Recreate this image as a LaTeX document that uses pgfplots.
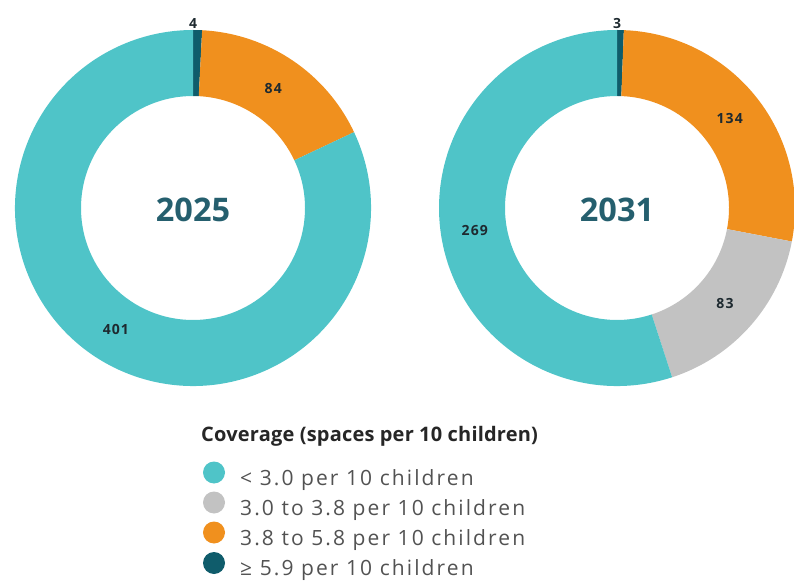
\documentclass[border=0pt]{standalone}
\usepackage{pgfplots}
\usepackage{pgfplotstable}
\pgfplotsset{compat=1.18}
\usepackage{fontspec}
\setmainfont{Open Sans}
\definecolor{seg0}{HTML}{0F5C6B}
\definecolor{seg1}{HTML}{F0901E}
\definecolor{seg2}{HTML}{C2C2C2}
\definecolor{seg3}{HTML}{4FC4C8}
\definecolor{yeartxt}{HTML}{255F6E}
\definecolor{lbltxt}{HTML}{1E2A30}

% rows in clockwise order from 12 o'clock
\pgfplotstableread{
cat v2025 v2031
0 4 3
1 84 134
2 0 83
3 401 269
}\data

\def\Ro{178}
\def\Ri{112}
\def\Rl{144}

\newcommand\donut[4]{% #1 column, #2 cx, #3 cy, #4 year
  \def\tot{0}%
  \pgfplotsforeachungrouped \i in {0,1,2,3}{%
    \pgfplotstablegetelem{\i}{#1}\of\data
    \pgfmathsetmacro\tot{\tot+\pgfplotsretval}%
  }%
  \def\cum{0}%
  \pgfplotsforeachungrouped \i in {0,1,2,3}{%
    \pgfplotstablegetelem{\i}{#1}\of\data
    \let\val\pgfplotsretval
    \pgfmathsetmacro\aS{90-360*(\cum/\tot)}%
    \pgfmathsetmacro\cum{\cum+\val}%
    \pgfmathsetmacro\aE{90-360*(\cum/\tot)}%
    \pgfmathsetmacro\aM{(\aS+\aE)/2}%
    \pgfmathtruncatemacro\vi{\val}%
    \ifnum\vi>0
      \edef\temp{\noexpand\fill[seg\i] (axis cs:#2,#3) ++(\aS:\Ro pt) arc[start angle=\aS, end angle=\aE, radius=\Ro pt] -- ([shift={(\aE:\Ri pt)}]axis cs:#2,#3) arc[start angle=\aE, end angle=\aS, radius=\Ri pt] -- cycle;}\temp
      \ifnum\vi>10
        \edef\temp{\noexpand\node[font=\noexpand\lblfont, text=lbltxt] at ([shift={(\aM:\Rl pt)}]axis cs:#2,#3) {\vi};}\temp
      \else
        \edef\temp{\noexpand\node[font=\noexpand\lblfont, text=lbltxt, anchor=south, inner sep=1pt] at ([shift={(90:\Ro pt)}]axis cs:#2,#3) {\vi};}\temp
      \fi
    \fi
  }%
  \node[font=\fontsize{32.5}{36}\selectfont\bfseries, text=yeartxt] at (axis cs:#2,#3-2) {#4};
}
\newcommand\lblfont{\fontsize{14}{16}\selectfont\bfseries\addfontfeatures{LetterSpace=8}}
\newcommand\legfont{\fontsize{21}{24}\selectfont\addfontfeatures{LetterSpace=10}}
\newcommand\titfont{\fontsize{20}{24}\selectfont\bfseries\addfontfeatures{LetterSpace=1}}

\begin{document}
\begin{tikzpicture}
\begin{axis}[x=1pt, y=1pt, xmin=0, xmax=794, ymin=0, ymax=581,
  hide axis, clip=false, scale only axis]
\coordinate (LL) at (axis cs:0,0);
\coordinate (UR) at (axis cs:794,581);
\donut{v2025}{193}{373}{2025}
\donut{v2031}{617}{373}{2031}
% legend
\node[anchor=base west, inner sep=0pt, font=\titfont, text=black!85] at (axis cs:201,140) {Coverage (spaces per 10 children)};
\fill[seg3] (axis cs:214,108.5) circle[radius=11pt];
\fill[seg2] (axis cs:214,78.5) circle[radius=11pt];
\fill[seg1] (axis cs:214,48.5) circle[radius=11pt];
\fill[seg0] (axis cs:214,18) circle[radius=11pt];
\begin{scope}[every node/.style={anchor=base west, inner sep=0pt, font=\legfont, text=black!68}]
\node at (axis cs:240,96) {< 3.0 per 10 children};
\node at (axis cs:240,66) {3.0 to 3.8 per 10 children};
\node at (axis cs:240,36) {3.8 to 5.8 per 10 children};
\node at (axis cs:240,6) {≥ 5.9 per 10 children};
\end{scope}
\end{axis}
\pgfresetboundingbox
\path[use as bounding box] (LL) rectangle (UR);
\end{tikzpicture}
\end{document}
